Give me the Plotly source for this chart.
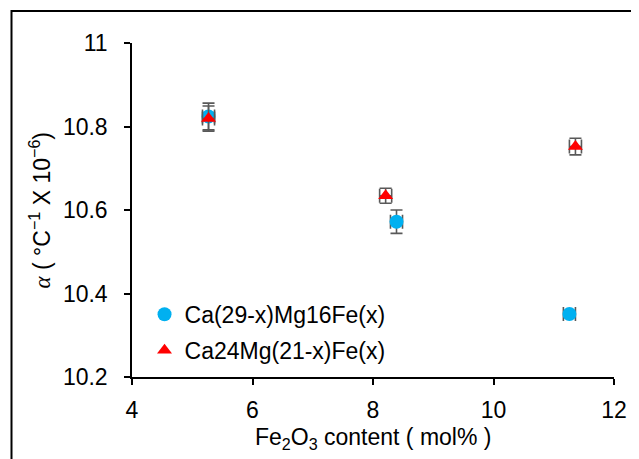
import plotly.graph_objects as go

# Data
x_ca = [5.27, 8.39, 11.26]
y_ca = [10.824, 10.572, 10.351]
err_ca = [0.032, 0.028, 0.006]

x_mg = [5.27, 8.21, 11.36]
y_mg = [10.819, 10.634, 10.752]
err_mg = [0.03, 0.018, 0.02]

xerr = [0.1, 0.1, 0.1]

name_ca = "Ca(29-x)Mg16Fe(x)"
name_mg = "Ca24Mg(21-x)Fe(x)"

x_ticks = [4, 6, 8, 10, 12]
y_ticks = [10.2, 10.4, 10.6, 10.8, 11]

FONT = "Liberation Sans, Arial, sans-serif"
ERRC = "#595959"

fig = go.Figure()
fig.add_trace(go.Scatter(
    x=x_ca, y=y_ca, mode="markers", name=name_ca, legendgroup="a",
    marker=dict(symbol="circle", size=14, color="#00B0F0"),
    error_y=dict(type="data", array=err_ca, color=ERRC, thickness=1.6, width=6),
    error_x=dict(type="data", array=xerr, color=ERRC, thickness=1.6, width=7),
))
fig.add_trace(go.Scatter(
    x=x_mg, y=y_mg, mode="markers", name=name_mg, legendgroup="b",
    marker=dict(symbol="triangle-up", size=13, color="#FF0000"),
    error_y=dict(type="data", array=err_mg, color=ERRC, thickness=1.6, width=6),
    error_x=dict(type="data", array=xerr, color=ERRC, thickness=1.6, width=7),
))

fig.update_layout(
    width=631, height=451,
    margin=dict(l=124, r=23, t=35, b=82),
    paper_bgcolor="white", plot_bgcolor="white",
    font=dict(family=FONT, size=23, color="black"),
    showlegend=True,
    legend=dict(x=0.026, y=0.252, xanchor="left", yanchor="top",
                bgcolor="rgba(0,0,0,0)", font=dict(size=23, family=FONT),
                tracegroupgap=3, itemwidth=30),
    xaxis=dict(range=[4, 12], tickvals=x_ticks, ticktext=[str(v) for v in x_ticks],
               showgrid=False, zeroline=False, showline=True, linecolor="black",
               linewidth=1.5, ticks="outside", ticklen=6, tickwidth=1.5,
               tickcolor="black", tickfont=dict(size=23, family=FONT),
               ticklabelstandoff=6),
    yaxis=dict(range=[10.2, 11], tickvals=y_ticks,
               ticktext=["10.2", "10.4", "10.6", "10.8", "11"],
               showgrid=False, zeroline=False, showline=True, linecolor="black",
               linewidth=1.5, ticks="outside", ticklen=6, tickwidth=1.5,
               tickcolor="black", tickfont=dict(size=23, family=FONT),
               ticklabelstandoff=12),
    annotations=[
        dict(text="Fe<sub>2</sub>O<sub>3</sub> content ( mol% )", xref="paper", yref="paper",
             x=0.5, y=-0.185, xanchor="center", yanchor="middle", showarrow=False,
             font=dict(size=23, family=FONT)),
        dict(text="<span style='font-family:Liberation Serif'><i>α</i></span> ( °C<sup>−1</sup> X 10<sup>−6</sup>)",
             xref="paper", yref="paper", x=-0.19, y=0.5, xanchor="center", yanchor="middle",
             textangle=-90, showarrow=False, font=dict(size=23, family=FONT)),
    ],
    shapes=[
        dict(type="path", xref="paper", yref="paper",
             path="M -0.25 -0.5 L -0.25 1.0958 L 1.2 1.0958",
             line=dict(color="black", width=2)),
    ],
)

fig.write_html("out.html")
